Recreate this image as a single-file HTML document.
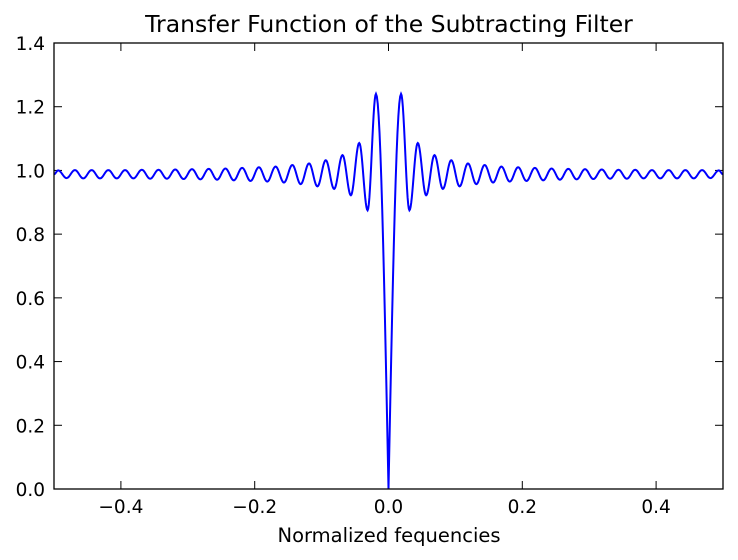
<!DOCTYPE html>
<html><head><meta charset="utf-8"><style>
body{margin:0;background:#fff;}
svg{display:block;font-family:"DejaVu Sans","Liberation Sans",sans-serif;}
</style></head><body>
<svg id="chart" width="738" height="560">
<rect x="0" y="0" width="738" height="560" fill="#fff"/>
<text x="389" y="32" text-anchor="middle" font-size="23.5">Transfer Function of the Subtracting Filter</text>
<text x="389" y="542" text-anchor="middle" font-size="19.5">Normalized fequencies</text>
<g id="ticks"></g>
<clipPath id="clip"><rect x="54" y="43" width="669" height="446"/></clipPath>
<path id="curve" fill="none" stroke="#0000ff" stroke-width="2" clip-path="url(#clip)"/>
<rect x="54" y="43" width="669" height="446" fill="none" stroke="#000" stroke-width="1.3"/>
</svg>
<script>
const xTicks=[-0.4,-0.2,0.0,0.2,0.4];
const xTickLabels=["\u22120.4","\u22120.2","0.0","0.2","0.4"];
const yTicks=[0,0.2,0.4,0.6,0.8,1.0,1.2,1.4];
const yTickLabels=["0.0","0.2","0.4","0.6","0.8","1.0","1.2","1.4"];
// extrema of positive half (mirrored for negative frequencies)
const extremaFreq=[0,0.01875,0.03125,0.04375,0.05625,0.06875,0.08125,0.09375,0.10625,0.11875,0.13125,0.14375,0.15625,0.16875,0.18125,0.19375,0.20625,0.21875,0.23125,0.24375,0.25625,0.26875,0.28125,0.29375,0.30625,0.31875,0.33125,0.34375,0.35625,0.36875,0.38125,0.39375,0.40625,0.41875,0.43125,0.44375,0.45625,0.46875,0.48125,0.49375,0.5];
const extremaValue=[0,1.24,0.875,1.086,0.922,1.048,0.942,1.032,0.950,1.022,0.957,1.017,0.962,1.012,0.965,1.010,0.967,1.008,0.969,1.006,0.971,1.005,0.972,1.004,0.973,1.003,0.974,1.002,0.974,1.002,0.975,1.001,0.975,1.001,0.975,1.001,0.975,1.001,0.976,1.000,0.988];
const X=v=>54+(v+0.5)*669;
const Y=v=>489-v/1.4*446;
const ns="http://www.w3.org/2000/svg";
const g=document.getElementById('ticks');
function mk(tag,attrs){const e=document.createElementNS(ns,tag);for(const k in attrs)e.setAttribute(k,attrs[k]);g.appendChild(e);return e;}
xTicks.forEach((t,i)=>{
  const x=X(t);
  const a=mk('line',{x1:x,x2:x,y1:489,y2:481,stroke:'#000'});
  
  
  const b=mk('line',{x1:x,x2:x,y1:43,y2:51,stroke:'#000'});
  
  
  const l=mk('text',{x:x,y:513,'text-anchor':'middle','font-size':18.5});
  l.textContent=xTickLabels[i];
  
  
});
yTicks.forEach((t,i)=>{
  const y=Y(t);
  const a=mk('line',{x1:54,x2:62,y1:y,y2:y,stroke:'#000'});
  
  
  const b=mk('line',{x1:715,x2:723,y1:y,y2:y,stroke:'#000'});
  
  
  const l=mk('text',{x:45,y:y+7,'text-anchor':'end','font-size':18.5});
  l.textContent=yTickLabels[i];
  
  
});
const fs=[],vs=[];
for(let i=extremaFreq.length-1;i>0;i--){fs.push(-extremaFreq[i]);vs.push(extremaValue[i]);}
for(let i=0;i<extremaFreq.length;i++){fs.push(extremaFreq[i]);vs.push(extremaValue[i]);}
const zi=extremaFreq.length-1;
let d='';
for(let i=0;i<fs.length-1;i++){
  const n=14;
  for(let s=0;s<=n;s++){
    if(i>0&&s===0)continue;
    const t=s/n;
    let w;
    if(i===zi) w=Math.sin(Math.PI*t/2);
    else if(i===zi-1) w=1-Math.cos(Math.PI*t/2);
    else w=(1-Math.cos(Math.PI*t))/2;
    const f=fs[i]+(fs[i+1]-fs[i])*t;
    const v=vs[i]+(vs[i+1]-vs[i])*w;
    d+=(d?'L':'M')+X(f).toFixed(2)+','+Y(v).toFixed(2);
  }
}
document.getElementById('curve').setAttribute('d',d);
</script>
</body></html>
